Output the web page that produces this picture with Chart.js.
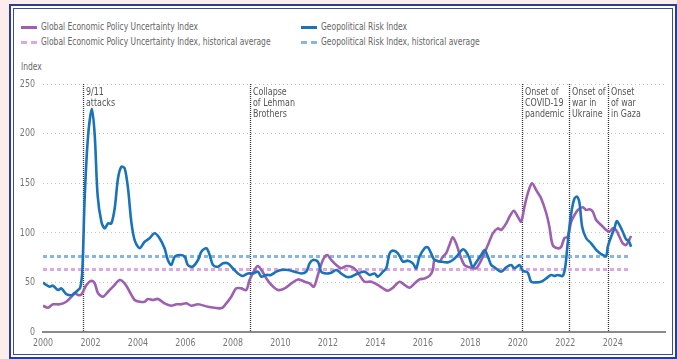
<!DOCTYPE html>
<html>
<head>
<meta charset="utf-8">
<script src="https://cdn.jsdelivr.net/npm/chart.js@4"></script>
<style>
  html, body { margin: 0; padding: 0; }
  body {
    width: 677px; height: 359px; position: relative; overflow: hidden;
    background: #fcecec;
    font-family: "Liberation Sans Narrow", "DejaVu Sans Condensed", "Roboto Condensed", sans-serif;
  }
  #frame {
    position: absolute; left: 9px; top: 4px; width: 664px; height: 351px;
    border: 2px solid #2c3d97; background: #fff;
  }
  #frame .inner {
    position: absolute; left: 2px; top: 2px; right: 2px; bottom: 2px;
    border: 1px solid #3b4ba2;
  }
  #chart { position: absolute; left: 0; top: 0; }
  .key { position: absolute; font-size: 10px; color: #666; line-height: 12px; white-space: nowrap; }
  .key i { position: absolute; top: 5px; width: 16px; height: 0; }
  .key span { position: absolute; left: 20px; top: 0; transform: scaleX(0.84); transform-origin: 0 0; }
  #yTitle { position: absolute; left: 21px; top: 61px; font-size: 10px; color: #666; transform: scaleX(0.84); transform-origin: 0 0; }
</style>
</head>
<body>
<div id="frame"><div class="inner"></div></div>
<div id="legend"></div>
<div id="yTitle">Index</div>
<canvas id="chart" width="677" height="359"></canvas>
<script>
// Geopolitical Risk Index (monthly-ish readings)
const gprYears = [2000.00,2000.28,2000.42,2000.63,2000.77,2000.98,2001.26,2001.40,2001.57,2001.66,2001.76,2001.90,2002.06,2002.18,2002.30,2002.46,2002.60,2002.74,2002.88,2003.02,2003.16,2003.30,2003.44,2003.58,2003.72,2003.86,2004.07,2004.28,2004.49,2004.70,2004.91,2005.12,2005.26,2005.40,2005.55,2005.76,2005.97,2006.10,2006.30,2006.53,2006.67,2006.88,2007.02,2007.16,2007.37,2007.58,2007.79,2008.00,2008.21,2008.42,2008.63,2008.84,2009.05,2009.20,2009.40,2009.60,2009.83,2010.04,2010.32,2010.60,2010.88,2011.09,2011.23,2011.37,2011.58,2011.72,2011.93,2012.14,2012.35,2012.56,2012.77,2012.98,2013.26,2013.54,2013.76,2013.97,2014.10,2014.32,2014.46,2014.60,2014.74,2014.95,2015.16,2015.37,2015.58,2015.72,2015.86,2016.07,2016.21,2016.35,2016.49,2016.77,2017.05,2017.26,2017.47,2017.68,2017.82,2017.96,2018.10,2018.31,2018.46,2018.60,2018.74,2018.88,2019.02,2019.30,2019.51,2019.72,2019.86,2020.07,2020.21,2020.42,2020.56,2020.77,2020.98,2021.20,2021.40,2021.54,2021.68,2021.89,2022.00,2022.10,2022.25,2022.39,2022.50,2022.60,2022.71,2022.88,2023.09,2023.30,2023.51,2023.72,2023.79,2023.93,2024.07,2024.17,2024.28,2024.42,2024.56,2024.67,2024.77];
const gprValues = [49.7,45.7,46.7,42.3,44,38.3,37.3,40.6,45,64,138,198,225,198,138,111,104.5,109.5,109.5,124.7,155,166.6,165,145,111,92.7,84.4,91,94.5,99.5,94.5,84.4,72.6,67.5,76,77.6,76,67.5,65.8,72.6,81,84.4,77.6,67.5,65.8,69.2,69.2,64,59,56.5,59,59,60.8,55.7,57.5,57.5,60.8,62.5,62.5,60.8,59,60.8,69.2,72.6,70.9,60.8,59,59.8,62.5,59,55.7,55.7,59,60.8,57.5,59,55.7,60.8,64.2,79.3,82,79.3,70.9,71.9,69.2,64.2,76,84.4,85.4,79.3,72.6,70.9,70.2,72.6,77.6,83.3,81,74.3,65.8,72.6,77.6,82.7,76,67.5,65.2,60.8,65.2,67.5,64.2,67.5,61.8,59.8,50.7,50,50.7,54,57.5,56.5,57.5,56.5,65.8,89.4,119.7,134.8,136.4,129.7,106.2,94.5,89.4,82.7,78.6,76.6,86,96,104.5,111.9,107.9,101.1,93.4,92,86];

// Global Economic Policy Uncertainty Index
const epuYears = [2000.00,2000.21,2000.42,2000.70,2000.98,2001.20,2001.33,2001.47,2001.62,2001.83,2002.04,2002.18,2002.32,2002.53,2002.74,2002.95,2003.23,2003.44,2003.65,2003.86,2004.07,2004.28,2004.42,2004.63,2004.84,2005.12,2005.40,2005.62,2005.83,2006.04,2006.25,2006.53,2006.95,2007.51,2007.72,2007.93,2008.14,2008.35,2008.56,2008.70,2008.91,2009.05,2009.20,2009.41,2009.62,2009.90,2010.18,2010.46,2010.74,2011.02,2011.23,2011.41,2011.58,2011.79,2011.97,2012.14,2012.35,2012.56,2012.77,2013.05,2013.20,2013.33,2013.54,2013.83,2014.10,2014.32,2014.53,2014.74,2015.02,2015.23,2015.44,2015.65,2015.86,2016.07,2016.28,2016.42,2016.49,2016.70,2016.84,2016.98,2017.12,2017.26,2017.40,2017.54,2017.75,2017.96,2018.25,2018.39,2018.53,2018.74,2018.95,2019.16,2019.30,2019.51,2019.65,2019.83,2020.00,2020.14,2020.28,2020.42,2020.60,2020.77,2020.98,2021.20,2021.33,2021.47,2021.68,2021.83,2021.96,2022.10,2022.25,2022.39,2022.53,2022.74,2022.88,2023.02,2023.16,2023.30,2023.51,2023.72,2023.86,2024.00,2024.14,2024.28,2024.42,2024.56,2024.70,2024.77];
const epuValues = [26.5,24.5,27.9,27.9,30.5,35.6,39.6,37.3,38,47.4,51.7,49,39,35.6,40.6,45.7,52.4,49,40.6,32.3,30.5,30.5,33.3,32.3,33.3,28.9,26.5,27.9,27.9,28.9,26.5,27.9,25.5,23.9,28.9,35.6,44,44,42.3,52.4,62.5,66.5,62.5,54,47.4,42.3,44,49,53,50.7,49,45.7,57.5,72.6,77.6,72.6,67.5,64.2,66.5,65.2,62,57.5,50.7,50.7,47.4,44,41.6,44.7,50.7,47.4,44.7,49,53,54,56.5,62.5,72.6,70.9,76,79.3,87.7,95.5,89.4,79.3,67.5,65.2,64.2,69.2,76,87.7,99.5,104.5,102.8,109.5,116.2,122.3,116.2,111.2,126.3,139.8,149.9,143.2,134.8,119.7,106.2,87.7,84.4,86,94.5,96,111.2,118,123,125.7,123,123.7,121.3,112.9,107.9,102.8,101.1,104.5,102.8,96,89.4,87.7,93.4,96.8];

// historical averages and the span they cover
const epuAverage = 63;
const gprAverage = 76;
const averageSpan = [2000, 2024.77];

// events marked on the chart
const eventYears = [2001.70, 2008.70, 2020.17, 2022.15, 2023.78];
const eventLabels = [
  ['9/11', 'attacks'],
  ['Collapse', 'of Lehman', 'Brothers'],
  ['Onset of', 'COVID-19', 'pandemic'],
  ['Onset of', 'war in', 'Ukraine'],
  ['Onset', 'of war', 'in Gaza']
];

const yTicks = [0, 50, 100, 150, 200, 250];
const xTickYears = [2000, 2002, 2004, 2006, 2008, 2010, 2012, 2014, 2016, 2018, 2020, 2022, 2024];

const legendItems = [
  { text: 'Global Economic Policy Uncertainty Index', color: '#9d5fb0', dash: false, x: 21, y: 21 },
  { text: 'Global Economic Policy Uncertainty Index, historical average', color: '#dda8e2', dash: true, x: 21, y: 36 },
  { text: 'Geopolitical Risk Index', color: '#1a73b8', dash: false, x: 301, y: 21 },
  { text: 'Geopolitical Risk Index, historical average', color: '#86b6e6', dash: true, x: 301, y: 36 }
];

const FONT = '"Liberation Sans Narrow", "DejaVu Sans Condensed", "Roboto Condensed", sans-serif';
const SQUEEZE = 0.84;

// html legend, two columns
const legend = document.getElementById('legend');
legendItems.forEach(item => {
  const d = document.createElement('div');
  d.className = 'key';
  d.style.left = item.x + 'px';
  d.style.top = item.y + 'px';
  const sw = document.createElement('i');
  sw.style.borderTop = item.dash ? '3px dashed ' + item.color : '3px solid ' + item.color;
  d.appendChild(sw);
  const s = document.createElement('span');
  s.textContent = item.text;
  d.appendChild(s);
  legend.appendChild(d);
});

const toPoints = (xs, ys) => xs.map((x, i) => ({ x: x, y: ys[i] }));

// narrow text: canvas has no condensed face here, so squeeze horizontally
function narrowText(ctx, text, x, y, align) {
  ctx.save();
  ctx.translate(x, y);
  ctx.scale(SQUEEZE, 1);
  ctx.textAlign = align;
  ctx.fillText(text, 0, 0);
  ctx.restore();
}

// axis labels, dotted event verticals and their captions
const annotations = {
  id: 'annotations',
  beforeDatasetsDraw(chart) {
    const ctx = chart.ctx;
    const xs = chart.scales.x, ys = chart.scales.y;
    ctx.save();
    ctx.font = '10.5px ' + FONT;
    ctx.fillStyle = '#777';
    ctx.textBaseline = 'middle';
    yTicks.forEach(v => narrowText(ctx, String(v), xs.left - 8, ys.getPixelForValue(v), 'right'));
    xTickYears.forEach(v => narrowText(ctx, String(v), xs.getPixelForValue(v), ys.bottom + 11, 'center'));

    eventYears.forEach((yr, i) => {
      const px = Math.round(xs.getPixelForValue(yr)) + 0.5;
      ctx.beginPath();
      ctx.setLineDash([1, 1]);
      ctx.strokeStyle = '#333';
      ctx.lineWidth = 1.3;
      ctx.moveTo(px, ys.getPixelForValue(250));
      ctx.lineTo(px, ys.getPixelForValue(0));
      ctx.stroke();
      ctx.setLineDash([]);
      ctx.fillStyle = '#555';
      ctx.font = '10.5px ' + FONT;
      eventLabels[i].forEach((line, j) => {
        narrowText(ctx, line, px + 2.5, ys.getPixelForValue(250) + 8 + j * 11, 'left');
      });
    });
    ctx.restore();
  }
};

new Chart(document.getElementById('chart'), {
  type: 'line',
  data: {
    datasets: [
      {
        label: 'Geopolitical Risk Index',
        data: toPoints(gprYears, gprValues),
        borderColor: '#1a73b8',
        borderWidth: 2.6,
        pointRadius: 0,
        tension: 0.3
      },
      {
        label: 'Global Economic Policy Uncertainty Index',
        data: toPoints(epuYears, epuValues),
        borderColor: '#9d5fb0',
        borderWidth: 2.6,
        pointRadius: 0,
        tension: 0.3
      },
      {
        label: 'Geopolitical Risk Index, historical average',
        data: toPoints(averageSpan, [gprAverage, gprAverage]),
        borderColor: '#86b6e6',
        borderWidth: 3,
        borderDash: [4, 3],
        pointRadius: 0
      },
      {
        label: 'Global Economic Policy Uncertainty Index, historical average',
        data: toPoints(averageSpan, [epuAverage, epuAverage]),
        borderColor: '#dda8e2',
        borderWidth: 3,
        borderDash: [4, 3],
        pointRadius: 0
      }
    ]
  },
  options: {
    responsive: false,
    animation: false,
    layout: { padding: { left: 0, right: 12, top: 84, bottom: 0 } },
    plugins: { legend: { display: false }, tooltip: { enabled: false } },
    scales: {
      x: {
        type: 'linear',
        min: 2000,
        max: 2026.2,
        afterBuildTicks: s => { s.ticks = xTickYears.map(v => ({ value: v })); },
        afterFit: s => { s.height = 27; },
        grid: { display: false, drawTicks: false },
        border: { display: true, color: '#8a8a8a', width: 2 },
        ticks: { display: false }
      },
      y: {
        min: 0,
        max: 250,
        afterBuildTicks: s => { s.ticks = yTicks.map(v => ({ value: v })); },
        afterFit: s => { s.width = 43; },
        grid: { color: '#c8c8c8', lineWidth: 1, drawTicks: false },
        border: { display: false, dash: [1, 3] },
        ticks: { display: false }
      }
    }
  },
  plugins: [annotations]
});
</script>
</body>
</html>
